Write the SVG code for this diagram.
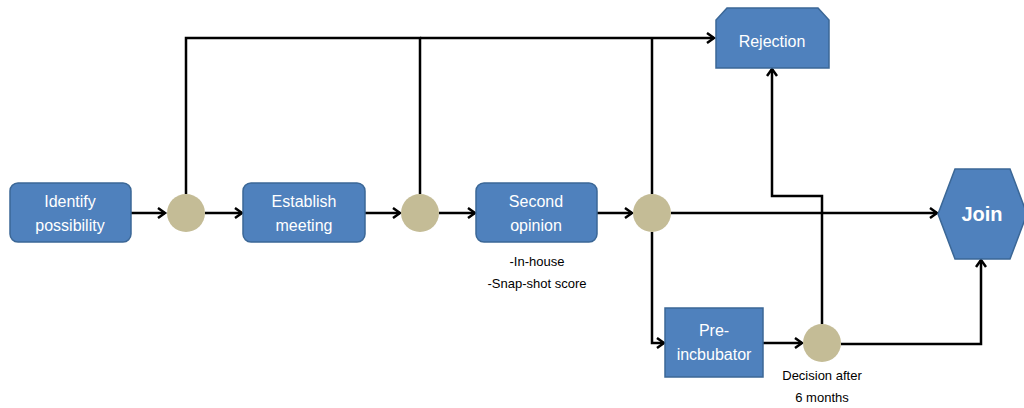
<svg xmlns="http://www.w3.org/2000/svg" width="1024" height="408" viewBox="0 0 1024 408">
<style>
.box{fill:#4F81BD;stroke:#3B6796;stroke-width:1.5}
.dot{fill:#C4BC96}
.t{font-family:"Liberation Sans",Arial,sans-serif;font-size:16px;fill:#fff;text-anchor:middle}
.n{font-family:"Liberation Sans",Arial,sans-serif;font-size:13px;fill:#000;text-anchor:middle}
.c{fill:none;stroke:#000;stroke-width:2.5}
</style>
<defs>
<marker id="a" markerWidth="12" markerHeight="12" refX="9" refY="6" orient="auto" markerUnits="userSpaceOnUse">
<polyline points="2,1 9,6 2,11" fill="none" stroke="#000" stroke-width="2.5"/>
</marker>
</defs>
<g id="connectors">
<polyline class="c" points="186,194 186,38 420,38 420,194"/>
<polyline class="c" points="420,38 714,38" marker-end="url(#a)"/>
<line class="c" x1="652" y1="38" x2="652" y2="194"/>
<line class="c" x1="131" y1="213" x2="165" y2="213" marker-end="url(#a)"/>
<line class="c" x1="205" y1="213" x2="242" y2="213" marker-end="url(#a)"/>
<line class="c" x1="365" y1="213" x2="400" y2="213" marker-end="url(#a)"/>
<line class="c" x1="439" y1="213" x2="475" y2="213" marker-end="url(#a)"/>
<line class="c" x1="597" y1="213" x2="632" y2="213" marker-end="url(#a)"/>
<line class="c" x1="671" y1="213" x2="937" y2="213" marker-end="url(#a)"/>
<polyline class="c" points="652,232 652,343 664,343" marker-end="url(#a)"/>
<line class="c" x1="763" y1="343" x2="802" y2="343" marker-end="url(#a)"/>
<polyline class="c" points="841,344 981,344 981,260" marker-end="url(#a)"/>
<polyline class="c" points="822,324 822,196 772,196 772,69" marker-end="url(#a)"/>
</g>
<g id="identify">
<rect class="box" x="10" y="183" width="121" height="59" rx="8"/>
<text class="t" x="70" y="207">Identify</text>
<text class="t" x="70" y="231">possibility</text>
</g>
<g id="dot1"><circle class="dot" cx="186" cy="213" r="19"/></g>
<g id="establish">
<rect class="box" x="243" y="183" width="122" height="59" rx="8"/>
<text class="t" x="304" y="207">Establish</text>
<text class="t" x="304" y="231">meeting</text>
</g>
<g id="dot2"><circle class="dot" cx="420" cy="213" r="19"/></g>
<g id="second">
<rect class="box" x="476" y="183" width="121" height="59" rx="8"/>
<text class="t" x="536" y="207">Second</text>
<text class="t" x="536" y="231">opinion</text>
<text class="n" x="537" y="266">-In-house</text>
<text class="n" x="537" y="288">-Snap-shot score</text>
</g>
<g id="dot3"><circle class="dot" cx="652" cy="213" r="19"/></g>
<g id="rejection">
<polygon class="box" points="727,8 818,8 829,20 829,68 716,68 716,20"/>
<text class="t" x="772" y="47">Rejection</text>
</g>
<g id="join">
<polygon class="box" points="938,214 955,169 1010,169 1027,214 1010,259 955,259"/>
<text class="t" x="982" y="221" style="font-size:20px;font-weight:bold">Join</text>
</g>
<g id="preincubator">
<rect class="box" x="665" y="308" width="98" height="69"/>
<text class="t" x="714" y="336">Pre-</text>
<text class="t" x="714" y="360">incbubator</text>
</g>
<g id="dot4">
<circle class="dot" cx="822" cy="343" r="19"/>
<text class="n" x="822" y="380">Decision after</text>
<text class="n" x="822" y="402">6 months</text>
</g>
</svg>
